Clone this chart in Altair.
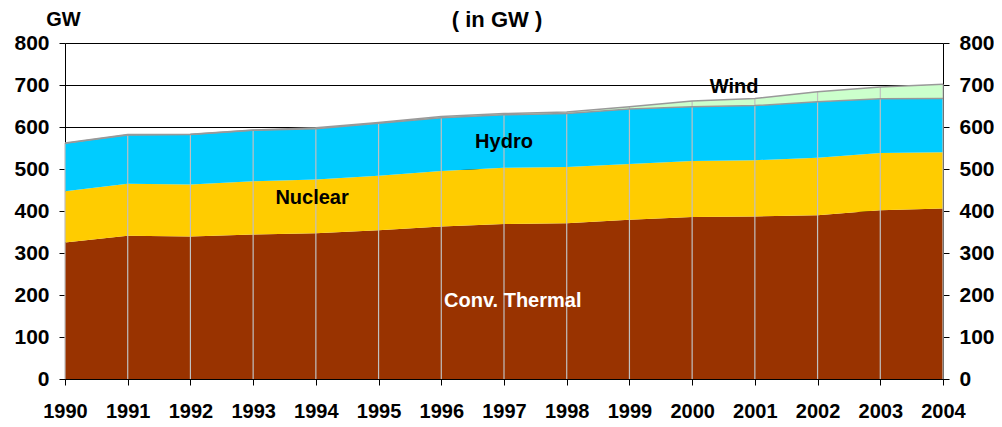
import altair as alt
import pandas as pd

years = list(range(1990, 2005))
series = ["Conv. Thermal", "Nuclear", "Hydro", "Wind"]
thermal = [325, 341, 339, 344, 347, 354, 363, 369, 371, 379, 386, 387, 390, 402, 406]
nuclear = [122, 124, 124, 127, 128, 130, 132, 134, 134, 133, 133, 134, 137, 136, 134]
hydro = [114, 116, 119, 121, 121, 125, 127, 126, 127, 131, 129, 130, 133, 129, 128]
wind = [1, 1, 1, 1, 2, 2, 3, 3, 4, 5, 14, 17, 24, 28, 34]
colors = ["#993300", "#FFCC00", "#00CCFF", "#CCFFCC"]

label_text = ["Wind", "Hydro", "Nuclear", "Conv. Thermal"]
label_year = [2000.67, 1997.0, 1993.94, 1997.14]
label_value = [681, 550, 417, 171]
label_color = ["black", "black", "black", "white"]

y_ticks = list(range(0, 801, 100))
FONT = "Liberation Sans"

rows = []
for i, y in enumerate(years):
    for k, (name, vals) in enumerate(zip(series, [thermal, nuclear, hydro, wind])):
        rows.append({"year": y, "source": name, "value": vals[i], "order": k})
long_df = pd.DataFrame(rows)

wide = pd.DataFrame({"year": years, "thermal": thermal, "nuclear": nuclear,
                     "hydro": hydro, "wind": wind})
wide["hydro_top"] = wide.thermal + wide.nuclear + wide.hydro
wide["total"] = wide.hydro_top + wide.wind

labels_df = pd.DataFrame({"text": label_text, "year": label_year,
                          "value": label_value, "color": label_color})

xscale = alt.Scale(domain=[1990, 2004], nice=False, zero=False)
yscale = alt.Scale(domain=[0, 800], nice=False)

x_axis = alt.Axis(values=years, format="d", title=None, grid=False,
                  labelFontSize=20, labelFontWeight="bold", labelFont=FONT,
                  labelColor="black", tickColor="black", tickSize=6,
                  domainColor="black", labelPadding=16, labelOverlap=False,
                  labelFlush=False, labelBound=False)

left_axis = alt.Axis(values=y_ticks, title="GW", titleAngle=0, titleX=-2, titleY=-18,
                     titleAlign="center", titleBaseline="alphabetic",
                     titleFontSize=20, titleFont=FONT, titleFontWeight="bold",
                     titleColor="black",
                     grid=True, gridColor="black", gridWidth=1,
                     labelFontSize=21, labelFontWeight="bold", labelFont=FONT,
                     labelColor="black", tickColor="black", tickSize=6,
                     domainColor="black", labelPadding=10)

right_axis = alt.Axis(values=y_ticks, title=None, orient="right", grid=False,
                      labelFontSize=21, labelFontWeight="bold", labelFont=FONT,
                      labelColor="black", tickColor="black", tickSize=6,
                      domainColor="black", labelPadding=10)

areas = alt.Chart(long_df).mark_area(interpolate="linear", opacity=1).encode(
    x=alt.X("year:Q", scale=xscale, axis=x_axis),
    y=alt.Y("value:Q", stack="zero", scale=yscale, axis=left_axis),
    color=alt.Color("source:N", scale=alt.Scale(domain=series, range=colors), legend=None),
    order=alt.Order("order:Q", sort="ascending"),
)

hydro_line = alt.Chart(wide).mark_line(color="#999999", strokeWidth=1.5).encode(
    x=alt.X("year:Q", scale=xscale),
    y=alt.Y("hydro_top:Q", scale=yscale),
)
total_line = alt.Chart(wide).mark_line(color="#999999", strokeWidth=1.5).encode(
    x=alt.X("year:Q", scale=xscale),
    y=alt.Y("total:Q", scale=yscale),
)

drops = alt.Chart(wide).mark_rule(color="#C0C0C0", strokeWidth=1.2).encode(
    x=alt.X("year:Q", scale=xscale),
    y=alt.Y("total:Q", scale=yscale),
    y2=alt.datum(0),
)

texts = alt.Chart(labels_df).mark_text(font=FONT, fontSize=20, fontWeight="bold",
                                       align="center", baseline="alphabetic").encode(
    x=alt.X("year:Q", scale=xscale),
    y=alt.Y("value:Q", scale=yscale),
    text="text:N",
    color=alt.Color("color:N", scale=None),
)

inner = alt.layer(areas, drops, hydro_line, total_line, texts)

right = alt.Chart(wide).mark_rule(opacity=0).encode(
    x=alt.X("year:Q", scale=xscale),
    y=alt.Y("total:Q", scale=yscale, axis=right_axis),
)

chart = alt.layer(inner, right).resolve_scale(y="independent").properties(
    width=878, height=336,
    title=alt.TitleParams("( in GW )", font=FONT, fontSize=22, fontWeight="bold",
                          color="black", anchor="middle", dx=-7, dy=31, offset=8),
    autosize=alt.AutoSizeParams(type="none"),
    padding={"left": 57, "top": 35, "right": 51, "bottom": 46},
).configure_view(stroke=None).configure(background="white")

chart.save("out.html", embed_options={"renderer": "svg", "actions": False})
